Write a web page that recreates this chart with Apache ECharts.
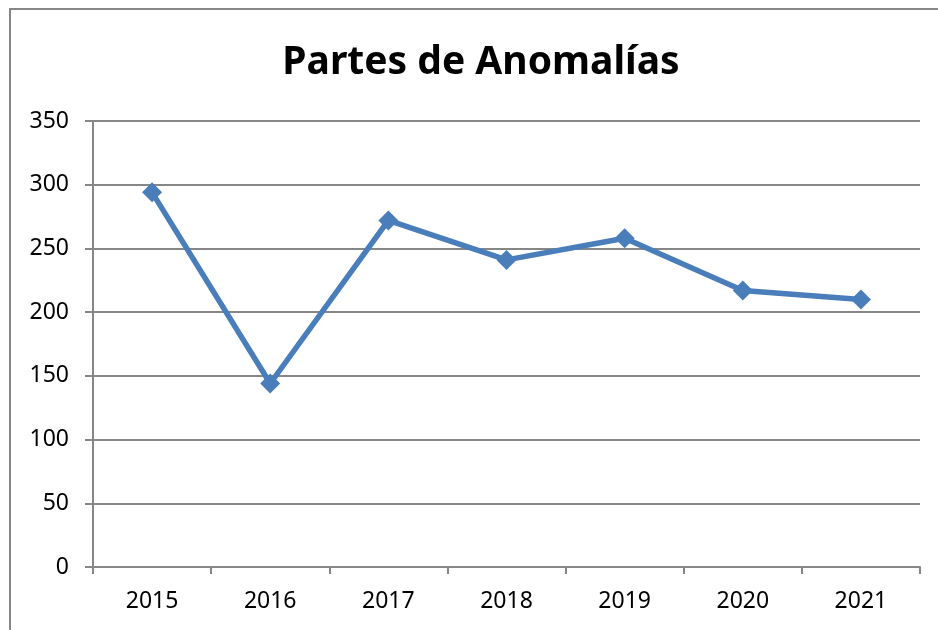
<!DOCTYPE html>
<html>
<head>
<meta charset="utf-8">
<title>Partes de Anomalías</title>
<script src="https://cdn.jsdelivr.net/npm/echarts@6/dist/echarts.min.js"></script>
<style>
  html, body { margin: 0; padding: 0; background: #fff; }
  #chart { width: 938px; height: 630px; }
</style>
</head>
<body>
<div id="chart"></div>
<script>
// datos del gráfico
const years = ['2015', '2016', '2017', '2018', '2019', '2020', '2021']
const partes = [294, 144, 272, 241, 258, 217, 210]
const yTicks = [0, 50, 100, 150, 200, 250, 300, 350]

const chart = echarts.init(document.getElementById('chart'))
const gris = '#868686'
const fuente = '"Noto Sans", sans-serif'

const option = {
  backgroundColor: '#fff',
  animation: false,
  // marco del gráfico (solo se ven los bordes izquierdo y superior)
  graphic: [{
    type: 'rect',
    shape: { x: 10, y: 9, width: 1200, height: 900 },
    style: { fill: 'none', stroke: gris, lineWidth: 2 }
  }],
  title: {
    text: 'Partes de Anomalías',
    left: 476,
    top: 38,
    textAlign: 'center',
    textStyle: {
      fontFamily: fuente,
      fontWeight: 'bold',
      fontSize: 39,
      color: '#000'
    }
  },
  grid: {
    left: 93,
    right: 18,
    top: 121,
    bottom: 63
  },
  xAxis: {
    type: 'category',
    data: years,
    boundaryGap: true,
    axisLine: { lineStyle: { color: gris, width: 2 } },
    axisTick: { show: true, length: 7, lineStyle: { color: gris, width: 2 } },
    axisLabel: { color: '#000', fontSize: 23, fontFamily: fuente, margin: 23 },
    splitLine: { show: false }
  },
  yAxis: {
    type: 'value',
    min: yTicks[0],
    max: yTicks[yTicks.length - 1],
    interval: 50,
    axisLine: { show: true, lineStyle: { color: gris, width: 2 } },
    axisTick: { show: true, length: 8, lineStyle: { color: gris, width: 2 } },
    axisLabel: { color: '#000', fontSize: 23, fontFamily: fuente, margin: 24 },
    splitLine: { show: true, lineStyle: { color: gris, width: 2 } }
  },
  series: [{
    name: 'Partes',
    type: 'line',
    data: partes,
    symbol: 'diamond',
    symbolSize: 20,
    lineStyle: { color: '#4a7ebb', width: 5.5 },
    itemStyle: { color: '#4a7ebb' }
  }]
}

chart.setOption(option)
</script>
</body>
</html>
